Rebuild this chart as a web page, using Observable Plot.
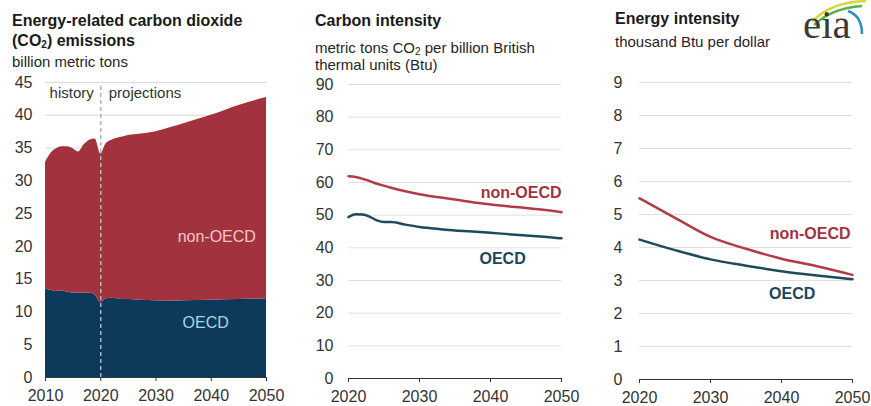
<!DOCTYPE html>
<html>
<head>
<meta charset="utf-8">
<script src="https://cdn.jsdelivr.net/npm/d3@7"></script>
<script src="https://cdn.jsdelivr.net/npm/@observablehq/plot@0.6"></script>
<style>
  html, body { margin: 0; padding: 0; background: #fff; }
  body { width: 871px; height: 406px; position: relative; overflow: hidden;
         font-family: "Liberation Sans", Arial, sans-serif; color: #1a1a1a; }
  .title { position: absolute; font-weight: bold; font-size: 16px; line-height: 20px; white-space: nowrap; z-index: 2; }
  .sub { position: absolute; font-size: 15px; line-height: 16px; white-space: nowrap; color: #262626; z-index: 2; }
  .chart { position: absolute; top: 0; }
  sub { font-size: 10px; vertical-align: -2px; line-height: 0; }
</style>
</head>
<body>
<div class="title" style="left:12px;top:11px;">Energy-related carbon dioxide<br>(CO<sub>2</sub>) emissions</div>
<div class="sub" style="left:12px;top:54px;">billion metric tons</div>

<div class="title" style="left:315px;top:11px;">Carbon intensity</div>
<div class="sub" style="left:315px;top:39px;line-height:17px;">metric tons CO<sub>2</sub> per billion British<br>thermal units (Btu)</div>

<div class="title" style="left:615px;top:9px;">Energy intensity</div>
<div class="sub" style="left:615px;top:34px;">thousand Btu per dollar</div>

<svg id="logo" style="position:absolute;left:800px;top:0px;z-index:2;" width="71" height="56" overflow="visible">
  <path d="M12,22 Q30,2 66,1" fill="none" stroke="#d7d63a" stroke-width="2.5"/>
  <path d="M14,25 Q32,8 62,6" fill="none" stroke="#5bb04a" stroke-width="2.5"/>
  <path d="M48,11 Q62,16 62,34" fill="none" stroke="#2a8fc4" stroke-width="2.5"/>
  <text x="3" y="38" font-family="'Liberation Serif','DejaVu Serif',serif" font-size="41" fill="#3a3a3a">eia</text>
</svg>

<div id="c1" class="chart" style="left:0px;"></div>
<div id="c2" class="chart" style="left:300px;"></div>
<div id="c3" class="chart" style="left:600px;"></div>

<script>
// ---------- Panel 1: CO2 emissions (billion metric tons), stacked ----------
const emisYears   = [2010,2011,2012,2013,2014,2015,2016,2017,2018,2019,2020,2021,2022,2023,2024,2025,2027,2030,2033,2035,2040,2045,2050];
const emisOECD    = [13.5,13.3,13.1,13.2,13.0,12.9,12.9,12.9,12.9,12.6,11.4,12.0,12.1,12.0,11.9,11.9,11.8,11.7,11.65,11.7,11.8,11.9,12.0];
const emisNonOECD = [19.3,20.9,21.8,22.0,22.2,22.0,21.5,22.6,23.3,23.8,22.7,23.7,24.1,24.5,24.8,25.0,25.3,25.8,26.55,27.0,28.2,29.6,30.7];

// ---------- Panel 2: carbon intensity (metric tons CO2 per billion Btu) ----------
const carbYears   = [2020,2021,2022,2023,2024,2025,2026,2028,2030,2033,2035,2038,2040,2043,2045,2048,2050];
const carbNonOECD = [61.9,61.7,61.1,60.4,59.6,59.0,58.4,57.3,56.4,55.4,54.8,53.8,53.3,52.6,52.2,51.5,50.9];
const carbOECD    = [49.4,50.3,50.2,49.5,48.4,47.9,47.9,47.1,46.4,45.7,45.3,44.9,44.6,44.1,43.8,43.3,42.9];

// ---------- Panel 3: energy intensity (thousand Btu per dollar) ----------
const enYears   = [2020,2025,2030,2035,2040,2045,2050];
const enNonOECD = [5.49,4.90,4.32,3.96,3.66,3.43,3.17];
const enOECD    = [4.24,3.92,3.64,3.45,3.28,3.15,3.04];

// ---------- Ticks ----------
const ticks1 = [0,5,10,15,20,25,30,35,40,45];
const ticks2 = [0,10,20,30,40,50,60,70,80,90];
const ticks3 = [0,1,2,3,4,5,6,7,8,9];
const xTicks1 = [2010,2020,2030,2040,2050];
const xTicks23 = [2020,2030,2040,2050];

// ---------- Labels (data coordinates) ----------
const labels1 = [
  {year: 2041, value: 21.4, text: "non-OECD", color: "#f3c6ca"},
  {year: 2039, value: 8.3, text: "OECD", color: "#acd6e4"}
];
const historyLabel = [{year: 2020, value: 43.3, text: "history"}];
const projLabel = [{year: 2020, value: 43.3, text: "projections"}];
const labels2End = [{year: 2050, value: 56.7, text: "non-OECD", color: "#a3323f"}];
const labels2Mid = [{year: 2041.7, value: 36.6, text: "OECD", color: "#1b4659"}];
const labels3End = [{year: 2050, value: 4.42, text: "non-OECD", color: "#a3323f"}];
const labels3Mid = [{year: 2041.5, value: 2.58, text: "OECD", color: "#1b4659"}];

const RED = "#a3323f", NAVY = "#0d3a5a", RED_LINE = "#b23b49", TEAL_LINE = "#1d4a5c";
const FONT = "'Liberation Sans', Arial, sans-serif";
const baseStyle = {fontFamily: FONT, fontSize: "16px", color: "#333", background: "transparent", overflow: "visible"};
const fmt = d => String(d);

// Build tables
const emisData = [
  ...emisYears.map((y, i) => ({year: y, value: emisOECD[i], series: "OECD"})),
  ...emisYears.map((y, i) => ({year: y, value: emisNonOECD[i], series: "non-OECD"}))
];
const carbData = [
  ...carbYears.map((y, i) => ({year: y, value: carbNonOECD[i], series: "non-OECD"})),
  ...carbYears.map((y, i) => ({year: y, value: carbOECD[i], series: "OECD"}))
];
const enData = [
  ...enYears.map((y, i) => ({year: y, value: enNonOECD[i], series: "non-OECD"})),
  ...enYears.map((y, i) => ({year: y, value: enOECD[i], series: "OECD"}))
];

const axisYopts = pad => ({tickSize: 0, tickPadding: pad, fontSize: 16, fill: "#333", label: null});
const axisXopts = {tickSize: 4, tickPadding: 8, tickFormat: fmt, fontSize: 16, fill: "#333", stroke: "#333", label: null};

// Panel 1
const p1 = Plot.plot({
  width: 290, height: 406,
  marginLeft: 45, marginRight: 24, marginTop: 82, marginBottom: 29,
  style: baseStyle,
  x: {domain: [2010, 2050]},
  y: {domain: [0, 45]},
  color: {domain: ["OECD", "non-OECD"], range: [NAVY, RED]},
  marks: [
    Plot.gridY(ticks1, {stroke: "#d9d9d9", strokeOpacity: 1}),
    Plot.areaY(emisData, {x: "year", y: "value", fill: "series", order: ["OECD", "non-OECD"], curve: "monotone-x"}),
    Plot.ruleX([2020], {y1: 0, y2: 44.4, stroke: "#a9b3c2", strokeWidth: 1.5, strokeDasharray: "4,3"}),
    Plot.axisY(ticks1, axisYopts(13)),
    Plot.axisX(xTicks1, axisXopts),
    Plot.ruleY([0], {stroke: "#333", strokeWidth: 1}),
    Plot.text(labels1, {x: "year", y: "value", text: "text", fill: "color", fontSize: 16}),
    Plot.text(historyLabel, {x: "year", y: "value", text: "text", textAnchor: "end", dx: -7, fill: "#333", fontSize: 15}),
    Plot.text(projLabel, {x: "year", y: "value", text: "text", textAnchor: "start", dx: 8, fill: "#333", fontSize: 15})
  ]
});
document.getElementById("c1").appendChild(p1);

// Panel 2
const p2 = Plot.plot({
  width: 290, height: 406,
  marginLeft: 48, marginRight: 29, marginTop: 84, marginBottom: 28,
  style: baseStyle,
  x: {domain: [2020, 2050]},
  y: {domain: [0, 90]},
  color: {domain: ["OECD", "non-OECD"], range: [TEAL_LINE, RED_LINE]},
  marks: [
    Plot.gridY(ticks2, {stroke: "#e0e0e0", strokeOpacity: 1}),
    Plot.axisY(ticks2, axisYopts(15)),
    Plot.axisX(xTicks23, axisXopts),
    Plot.ruleY([0], {stroke: "#333", strokeWidth: 1.2}),
    Plot.line(carbData, {x: "year", y: "value", stroke: "series", strokeWidth: 2.5, curve: "monotone-x"}),
    Plot.text(labels2End, {x: "year", y: "value", text: "text", fill: "color", textAnchor: "end", fontSize: 16, fontWeight: "bold"}),
    Plot.text(labels2Mid, {x: "year", y: "value", text: "text", fill: "color", fontSize: 16, fontWeight: "bold"})
  ]
});
document.getElementById("c2").appendChild(p2);

// Panel 3
const p3 = Plot.plot({
  width: 271, height: 406,
  marginLeft: 39, marginRight: 19, marginTop: 82, marginBottom: 27,
  style: baseStyle,
  x: {domain: [2020, 2050]},
  y: {domain: [0, 9]},
  color: {domain: ["OECD", "non-OECD"], range: [TEAL_LINE, RED_LINE]},
  marks: [
    Plot.gridY(ticks3, {stroke: "#e0e0e0", strokeOpacity: 1}),
    Plot.axisY(ticks3, axisYopts(17)),
    Plot.axisX(xTicks23, axisXopts),
    Plot.ruleY([0], {stroke: "#333", strokeWidth: 1.2}),
    Plot.line(enData, {x: "year", y: "value", stroke: "series", strokeWidth: 2.5, curve: "monotone-x"}),
    Plot.text(labels3End, {x: "year", y: "value", text: "text", fill: "color", textAnchor: "end", dx: -2, fontSize: 16, fontWeight: "bold"}),
    Plot.text(labels3Mid, {x: "year", y: "value", text: "text", fill: "color", fontSize: 16, fontWeight: "bold"})
  ]
});
document.getElementById("c3").appendChild(p3);
</script>
</body>
</html>
